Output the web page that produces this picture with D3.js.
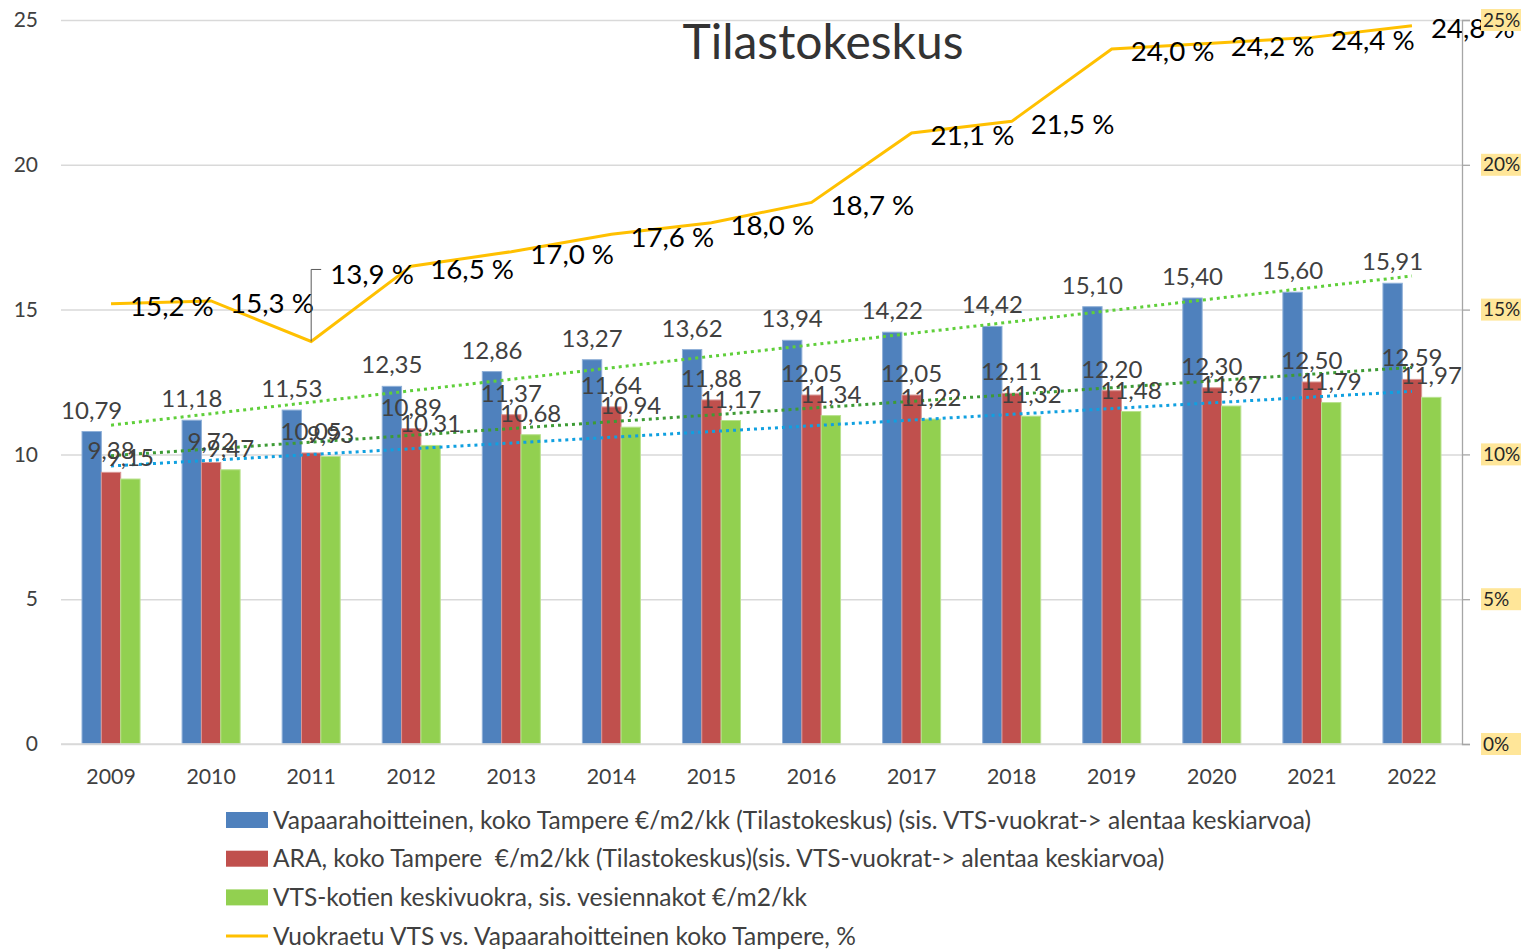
<!DOCTYPE html>
<html>
<head>
<meta charset="utf-8">
<script src="https://cdn.jsdelivr.net/npm/d3@7"></script>
<style>
  body { margin: 0; background: #fff; }
  text { font-family: Lato, "Open Sans", sans-serif; }
</style>
</head>
<body>
<div id="chart"></div>
<script>
// data
const years = ["2009", "2010", "2011", "2012", "2013", "2014", "2015", "2016", "2017", "2018", "2019", "2020", "2021", "2022"];
const vapaa = [10.79, 11.18, 11.53, 12.35, 12.86, 13.27, 13.62, 13.94, 14.22, 14.42, 15.10, 15.40, 15.60, 15.91];
const ara = [9.38, 9.72, 10.05, 10.89, 11.37, 11.64, 11.88, 12.05, 12.05, 12.11, 12.20, 12.30, 12.50, 12.59];
const vts = [9.15, 9.47, 9.93, 10.31, 10.68, 10.94, 11.17, 11.34, 11.22, 11.32, 11.48, 11.67, 11.79, 11.97];
const vuokraetu = [15.2, 15.3, 13.9, 16.5, 17.0, 17.6, 18.0, 18.7, 21.1, 21.5, 24.0, 24.2, 24.4, 24.8];
const leftTicks = [0, 5, 10, 15, 20, 25];
const rightTicks = [0, 0.05, 0.10, 0.15, 0.20, 0.25];
const legendLabels = [
  "Vapaarahoitteinen, koko Tampere €/m2/kk (Tilastokeskus) (sis. VTS-vuokrat-> alentaa keskiarvoa)",
  "ARA, koko Tampere  €/m2/kk (Tilastokeskus)(sis. VTS-vuokrat-> alentaa keskiarvoa)",
  "VTS-kotien keskivuokra, sis. vesiennakot €/m2/kk",
  "Vuokraetu VTS vs. Vapaarahoitteinen koko Tampere, %"
];

const W = 1526, H = 950;
const plotL = 61, plotR = 1462, plotT = 20, plotB = 744;

const series = [
  { key: "vapaa", values: vapaa, color: "#4F81BD", edge: "#8fb0d8", trend: "#5fcf3a" },
  { key: "ara", values: ara, color: "#C0504D", edge: "#d99694", trend: "#3d9b35" },
  { key: "vts", values: vts, color: "#92D050", edge: "#b9e28f", trend: "#10a0e0" }
];

const svg = d3.select("#chart").append("svg")
  .attr("width", W).attr("height", H);

const x = d3.scaleBand().domain(years).range([plotL, plotR]);
const bw = x.bandwidth();
const x1 = d3.scaleBand().domain(series.map(s => s.key)).range([bw * 0.21, bw * 0.79]);
const y = d3.scaleLinear().domain([0, 25]).range([plotB, plotT]);
const yR = d3.scaleLinear().domain([0, 0.25]).range([plotB, plotT]);

const fmt = v => v.toFixed(2).replace(".", ",");
const fmtP = v => v.toFixed(1).replace(".", ",") + " %";

// gridlines
svg.append("g")
  .attr("transform", `translate(${plotL},0)`)
  .call(d3.axisLeft(y).tickValues(leftTicks).tickSize(-(plotR - plotL)).tickFormat(""))
  .call(g => g.select(".domain").remove())
  .call(g => g.selectAll("line").attr("stroke", "#d9d9d9").attr("stroke-width", 1.5));

// left axis labels
svg.append("g")
  .attr("transform", `translate(${plotL},0)`)
  .call(d3.axisLeft(y).tickValues(leftTicks).tickSize(0).tickPadding(23))
  .call(g => g.select(".domain").remove())
  .call(g => g.selectAll("text").attr("font-size", 21).attr("fill", "#404040")
    .style("font-family", "Lato, sans-serif"));

// title
svg.append("text")
  .attr("x", 823).attr("y", 59)
  .attr("text-anchor", "middle")
  .attr("font-size", 48)
  .attr("fill", "#333")
  .text("Tilastokeskus");

// bars
series.forEach(s => {
  svg.append("g").selectAll("rect")
    .data(s.values)
    .enter().append("rect")
    .attr("x", (d, i) => x(years[i]) + x1(s.key))
    .attr("y", d => y(d))
    .attr("width", x1.bandwidth())
    .attr("height", d => y(0) - y(d))
    .attr("fill", s.color)
    .attr("stroke", s.edge)
    .attr("stroke-width", 1);
});

// x axis
svg.append("line")
  .attr("x1", plotL).attr("x2", plotR)
  .attr("y1", y(0)).attr("y2", y(0))
  .attr("stroke", "#d9d9d9").attr("stroke-width", 1.5);

svg.append("g")
  .attr("transform", `translate(0,${plotB})`)
  .call(d3.axisBottom(x).tickSize(0).tickPadding(25))
  .call(g => g.select(".domain").remove())
  .call(g => g.selectAll("text").attr("font-size", 21.3).attr("fill", "#404040")
    .style("font-family", "Lato, sans-serif"));

// linear trendlines
const idx = years.map((d, i) => i);
series.forEach(s => {
  const n = s.values.length;
  const mx = d3.mean(idx), my = d3.mean(s.values);
  const slope = d3.sum(idx, i => (i - mx) * (s.values[i] - my)) / d3.sum(idx, i => (i - mx) ** 2);
  const b = my - slope * mx;
  const pts = [0, n - 1].map(i => [x(years[i]) + bw / 2, y(b + slope * i)]);
  svg.append("path")
    .attr("d", d3.line()(pts))
    .attr("fill", "none")
    .attr("stroke", s.trend)
    .attr("stroke-width", 3)
    .attr("stroke-dasharray", "3 4");
});

// bar value labels
series.forEach(s => {
  svg.append("g").selectAll("text")
    .data(s.values)
    .enter().append("text")
    .attr("x", (d, i) => x(years[i]) + x1(s.key) + x1.bandwidth() / 2)
    .attr("y", d => y(d) - 13)
    .attr("text-anchor", "middle")
    .attr("font-size", 24)
    .attr("fill", "#404040")
    .text(d => fmt(d));
});

// yellow line
const line = d3.line()
  .x((d, i) => x(years[i]) + bw / 2)
  .y(d => y(d));
svg.append("path")
  .datum(vuokraetu)
  .attr("d", line)
  .attr("fill", "none")
  .attr("stroke", "#FFC000")
  .attr("stroke-width", 3);

// line labels (2011 label lifted with a leader line)
vuokraetu.forEach((d, i) => {
  const px = x(years[i]) + bw / 2, py = y(d);
  let ly = py;
  if (i === 2) {
    ly = py - 70;
    svg.append("path")
      .attr("d", `M${px},${py}V${ly - 2}H${px + 10}`)
      .attr("fill", "none").attr("stroke", "#595959").attr("stroke-width", 1);
  }
  svg.append("text")
    .attr("x", px + 19)
    .attr("y", ly)
    .attr("dy", "0.45em")
    .attr("font-size", 27.7)
    .attr("fill", "#000")
    .text(fmtP(d));
});

// right axis
svg.append("g")
  .attr("transform", `translate(${plotR},0)`)
  .call(d3.axisRight(yR).tickValues(rightTicks).tickSize(8).tickFormat(""))
  .call(g => g.selectAll("line, path").attr("stroke", "#a6a6a6").attr("stroke-width", 1.3));

const rl = svg.append("g").selectAll("g")
  .data(rightTicks)
  .enter().append("g")
  .attr("transform", d => `translate(1483,${yR(d)})`);
rl.append("rect")
  .attr("x", -2).attr("y", -11)
  .attr("width", 40).attr("height", 22)
  .attr("fill", "#FFE699");
rl.append("text")
  .attr("x", 0).attr("dy", "0.35em")
  .attr("font-size", 19)
  .attr("fill", "#262626")
  .text(d => Math.round(d * 100) + "%");

// legend
const legend = svg.append("g").selectAll("g")
  .data(legendLabels)
  .enter().append("g")
  .attr("transform", (d, i) => `translate(226,${820 + i * 38.7})`);
legend.each(function (d, i) {
  const g = d3.select(this);
  if (i < 3) {
    g.append("rect").attr("x", 0).attr("y", -8).attr("width", 42).attr("height", 16)
      .attr("fill", series[i].color);
  } else {
    g.append("line").attr("x1", 0).attr("x2", 42).attr("y1", 0).attr("y2", 0)
      .attr("stroke", "#FFC000").attr("stroke-width", 3);
  }
  g.append("text")
    .attr("x", 47).attr("dy", "0.35em")
    .attr("font-size", 24.5)
    .attr("fill", "#404040")
    .style("white-space", "pre")
    .text(d);
});
</script>
</body>
</html>
